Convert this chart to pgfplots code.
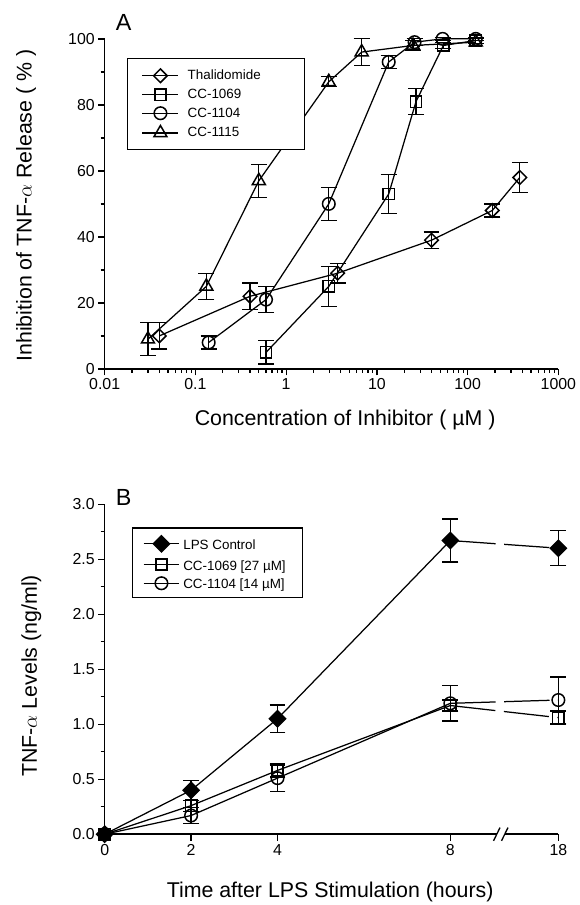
\documentclass[border=0pt]{standalone}
\usepackage{fontspec}
\setmainfont{Liberation Sans}
\usepackage{pgfplots}
\pgfplotsset{compat=1.18}

\newcommand\tickfont{\fontsize{16}{19}\selectfont}
\newcommand\labfont{\fontsize{21.5}{25}\selectfont}
\newcommand\legfont{\fontsize{13.5}{15}\selectfont}
\newcommand\panfont{\fontsize{23.5}{27}\selectfont}

\pgfplotsset{
  panel/.style={
    scale only axis, width=455bp, height=331bp,
    axis lines=left, axis line style={-, line width=1.6bp},
    tick align=outside, major tick length=6.5bp, minor tick length=4bp,
    tick style={black, line width=1.3bp},
    tick label style={font=\tickfont},
    label style={font=\labfont},
    /pgf/number format/assume math mode=true,
    clip=false,
    legend cell align=left,
    legend style={draw=black, line width=1.2bp, font=\legfont, anchor=north west},
    legend image code/.code={\draw[mark repeat=2,mark phase=2]
      plot coordinates {(0bp,0bp)(18bp,0bp)(36bp,0bp)};},
    every axis plot/.append style={black, line width=1.25bp},
  },
  errs/.style={error bars/y dir=both, error bars/y explicit,
    error bars/error bar style={line width=1.25bp},
    error bars/error mark options={rotate=90, mark size=8bp, line width=1.25bp}},
  dia/.style={mark=square, mark options={rotate=45, solid, fill=white, line width=1.5bp, mark size=4.8bp}},
  sq/.style={mark=square, mark options={solid, fill=white, line width=1.5bp, mark size=5.7bp}},
  ci/.style={mark=o, mark options={solid, fill=white, line width=1.5bp, mark size=6.3bp}},
  tri/.style={mark=triangle, mark options={solid, fill=white, line width=1.5bp, mark size=7.5bp}},
}

\begin{document}
\begin{tikzpicture}
% page frame, 1 px of the reference = 1 bp
\path (0bp,0bp) rectangle (580bp,905bp);

% ---------------- panel A ----------------
\begin{axis}[panel, at={(105bp,535bp)}, anchor=south west,
  xmode=log, xmin=0.01, xmax=1000,
  xtick={0.01,0.1,1,10,100,1000},
  xticklabels={0.01,0.1,1,10,100,1000},
  minor xtick={0.02,0.03,0.04,0.05,0.06,0.07,0.08,0.09,
    0.2,0.3,0.4,0.5,0.6,0.7,0.8,0.9,2,3,4,5,6,7,8,9,
    20,30,40,50,60,70,80,90,200,300,400,500,600,700,800,900},
  ymin=0, ymax=100, ytick={0,20,...,100}, minor y tick num=1,
  xlabel={Concentration of Inhibitor ( µM )},
  ylabel={Inhibition of TNF-$\alpha$ Release ( \% )},
  xlabel style={at={(axis description cs:0.53,-0.171)}, anchor=base},
  ylabel style={at={(axis description cs:-0.161,0.495)}, anchor=base},
  legend style={at={(axis description cs:0.049,0.9417)}, inner xsep=14.4bp, inner ysep=10.3bp,
    nodes={inner sep=0bp, text height=10.1bp, text depth=2.4bp}, row sep=6bp,
    /tikz/every odd column/.append style={column sep=8.7bp}},
]
\addplot[dia, errs] coordinates {
  (0.04,10) +- (0,4)
  (0.4,22) +- (0,4)
  (3.7,29) +- (0,3)
  (40,39) +- (0,2.5)
  (187,48) +- (0,2)
  (376,58) +- (0,4.5)
};
\addlegendentry{Thalidomide\rule{29.4bp}{0pt}}
\addplot[sq, errs] coordinates {
  (0.6,5) +- (0,3.5)
  (2.95,25) +- (0,6)
  (13.5,53) +- (0,6)
  (27,81) +- (0,4)
  (54,98) +- (0,1)
  (123,99.5) +- (0,0.8)
};
\addlegendentry{CC-1069}
\addplot[ci, errs] coordinates {
  (0.14,8) +- (0,2)
  (0.6,21) +- (0,4)
  (2.95,50) +- (0,5)
  (13.5,93) +- (0,2)
  (26,99) +- (0,1)
  (53,100) +- (0,0.5)
  (123,100) +- (0,0.5)
};
\addlegendentry{CC-1104}
\addplot[tri, errs] coordinates {
  (0.03,9) +- (0,5)
  (0.132,25) +- (0,4)
  (0.5,57) +- (0,5)
  (2.95,87) +- (0,1.5)
  (6.8,96) +- (0,4)
  (25,98) +- (0,1.5)
  (123,99) +- (0,0.5)
};
\addlegendentry{CC-1115}
\end{axis}
\node[anchor=base west, font=\panfont, inner sep=0] at (116bp,874bp) {A};

% ---------------- panel B ----------------
\begin{axis}[panel, at={(105bp,68.3bp)}, anchor=south west,
  x coord trafo/.code={\pgfmathparse{#1>9 ? #1-7.5 : #1}},
  xmin=0, xmax=18, xtick={0,2,4,8,18}, xticklabels={0,2,4,8,18},
  ymin=0, ymax=3, ytick={0,0.5,...,3}, minor y tick num=1,
  yticklabel style={/pgf/number format/.cd, fixed, fixed zerofill, precision=1},
  xlabel={Time after LPS Stimulation (hours)},
  ylabel={TNF-$\alpha$ Levels (ng/ml)},
  xlabel style={at={(axis description cs:0.497,-0.191)}, anchor=base},
  ylabel style={at={(axis description cs:-0.1495,0.48)}, anchor=base},
  legend style={at={(axis description cs:0.06,0.93)}, inner xsep=10.4bp, inner ysep=7.7bp,
    nodes={inner sep=0bp, text height=12bp, text depth=0.5bp}, row sep=6.3bp,
    /tikz/every odd column/.append style={column sep=3.3bp}},
]
\addlegendimage{black, line width=1.25bp, mark=square*, mark options={rotate=45, fill=black, mark size=5.8bp}}
\addlegendentry{LPS Control}
\addlegendimage{black, line width=1.25bp, sq}
\addlegendentry{CC-1069 [27 µM]\rule{6.6bp}{0pt}}
\addlegendimage{black, line width=1.25bp, ci}
\addlegendentry{CC-1104 [14 µM]}

% connecting lines, broken across the axis break after 8 h
\addplot[forget plot] coordinates {(0,0) (2,0.40) (4,1.05) (8,2.67)};
\addplot[forget plot, dash pattern=on 45.5bp off 8.5bp] coordinates {(8,2.67) (18,2.60)};
\addplot[forget plot] coordinates {(0,0) (2,0.26) (4,0.58) (8,1.17)};
\addplot[forget plot, dash pattern=on 45.5bp off 8.5bp] coordinates {(8,1.17) (18,1.06)};
\addplot[forget plot] coordinates {(0,0) (2,0.17) (4,0.51) (8,1.19)};
\addplot[forget plot, dash pattern=on 45.5bp off 8.5bp] coordinates {(8,1.19) (18,1.22)};

% points with error bars
\addplot[forget plot, only marks, mark=square*, mark options={rotate=45, fill=black, mark size=5.8bp}, errs] coordinates {
  (0,0) (2,0.40) +- (0,0.09) (4,1.05) +- (0,0.125) (8,2.67) +- (0,0.195) (18,2.60) +- (0,0.16)
};
\addplot[forget plot, only marks, sq, errs] coordinates {
  (0,0) (2,0.26) +- (0,0.05) (4,0.58) +- (0,0.06) (8,1.17) +- (0,0.05) (18,1.06) +- (0,0.06)
};
\addplot[forget plot, only marks, ci, errs] coordinates {
  (0,0) (2,0.17) +- (0,0.07) (4,0.51) +- (0,0.12) (8,1.19) +- (0,0.16) (18,1.22) +- (0,0.21)
};
\end{axis}
% axis break marks on the time axis
\fill[white] (498.5bp,65bp) rectangle (506bp,71.5bp);
\draw[line width=1.3bp] (495bp,61.7bp) -- (501.5bp,75bp);
\draw[line width=1.3bp] (503bp,61.7bp) -- (509.5bp,75bp);
\node[anchor=base west, font=\panfont, inner sep=0] at (116bp,398bp) {B};
\end{tikzpicture}
\end{document}
